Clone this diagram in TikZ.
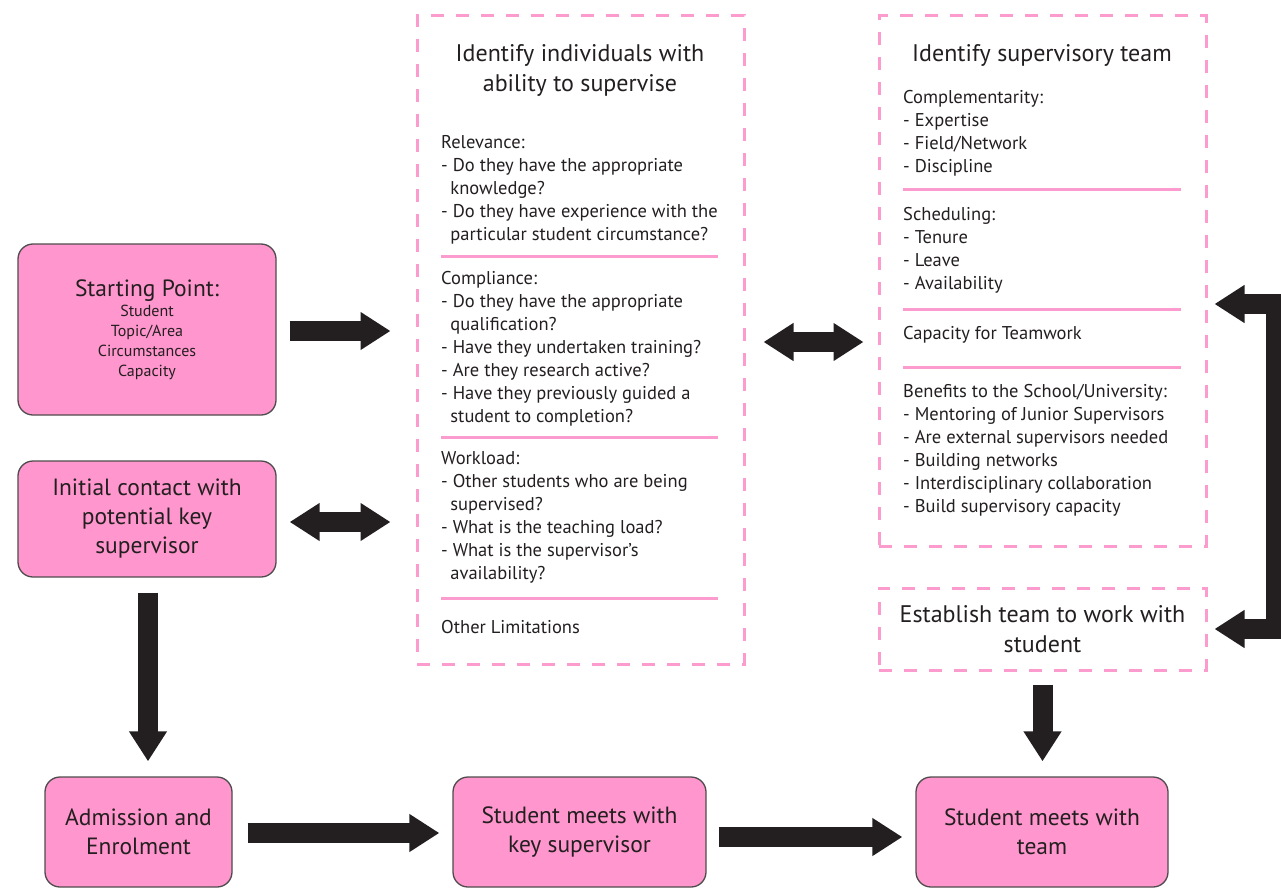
\documentclass[tikz,border=0pt]{standalone}
\usepackage{fontspec}
\setmainfont{PT Sans}
\usetikzlibrary{arrows.meta,calc,positioning}

\definecolor{boxpink}{RGB}{255,150,205}
\definecolor{dashpink}{RGB}{252,155,205}
\definecolor{inkgray}{RGB}{35,31,32}

\newcommand{\ind}{\hspace*{0.5em}}

\tikzset{
  stage/.style={draw=inkgray!80, line width=1.3pt, fill=boxpink, rounded corners=15pt,
    align=center, text=inkgray, inner sep=0pt, font=\fontsize{23.5}{29}\selectfont},
  panel/.style={draw=dashpink, line width=3pt, dash pattern=on 13pt off 12pt, inner sep=0pt,
    align=center, text=inkgray, font=\fontsize{24}{30}\selectfont},
  heading/.style={align=center, inner sep=0pt, text=inkgray, font=\fontsize{24}{30}\selectfont},
  body/.style={anchor=north west, align=left, inner sep=0pt, text=inkgray,
    font=\fontsize{18.5}{23}\selectfont},
  sepline/.style={dashpink, line width=3pt},
  fat/.style={draw=inkgray, line width=20pt, line join=miter, -{Triangle[length=30pt,width=36pt]}},
  fatboth/.style={draw=inkgray, line width=20pt, line join=miter,
    {Triangle[length=30pt,width=36pt]}-{Triangle[length=30pt,width=36pt]}},
}

\begin{document}
\begin{tikzpicture}[x=1pt,y=-1pt]
\useasboundingbox (0,0) rectangle (1281,888);

% pink stages
\node[stage, minimum width=258pt, minimum height=171pt, font=\fontsize{16}{20}\selectfont] (start) at (147,329.5)
  {{\fontsize{23.5}{22}\selectfont Starting Point:}\\Student\\Topic/Area\\Circumstances\\Capacity};
\node[stage, minimum width=258pt, minimum height=116pt] (contact) at (147,519) {Initial contact with\\potential key\\supervisor};
\node[stage, minimum width=187pt, minimum height=110pt] (admit) at (138.5,832) {Admission and\\Enrolment};
\node[stage, minimum width=253pt, minimum height=110pt] (keysup) at (579.5,832) {Student meets with\\key supervisor};
\node[stage, minimum width=252pt, minimum height=110pt] (meetteam) at (1042,832) {Student meets with\\team};

% dashed panels
\node[panel, minimum width=327pt, minimum height=648pt] (ident) at (580.5,340) {};
\node[panel, minimum width=327pt, minimum height=530pt] (team) at (1042.5,281) {};
\node[panel, minimum width=327pt, minimum height=82pt] (establish) at (1042.5,629) {Establish team to work with\\student};

\node[heading] (identtitle) at (580,70) {Identify individuals with\\ability to supervise};
\node[heading] (teamtitle) at (1042,55) {Identify supervisory team};

% left panel
\node[body] (relevance) at (441,135) {Relevance:\\- Do they have the appropriate\\\ind knowledge?\\- Do they have experience with the\\\ind particular student circumstance?};
\node[body] (compliance) at (441,271) {Compliance:\\- Do they have the appropriate\\\ind qualification?\\- Have they undertaken training?\\- Are they research active?\\- Have they previously guided a\\\ind student to completion?};
\node[body] (workload) at (441,451) {Workload:\\- Other students who are being\\\ind supervised?\\- What is the teaching load?\\- What is the supervisor's\\\ind availability?};
\node[body] (limits) at (441,620) {Other Limitations};
\foreach \y in {256,437,598}
  \draw[sepline] (441,\y) -- (718,\y);

% right panel
\node[body] (complement) at (903,90) {Complementarity:\\- Expertise\\- Field/Network\\- Discipline};
\node[body] (schedule) at (903,207) {Scheduling:\\- Tenure\\- Leave\\- Availability};
\node[body] (teamwork) at (903,326) {Capacity for Teamwork};
\node[body] (benefits) at (903,384) {Benefits to the School/University:\\- Mentoring of Junior Supervisors\\- Are external supervisors needed\\- Building networks\\- Interdisciplinary collaboration\\- Build supervisory capacity};
\foreach \y in {189,309,367}
  \draw[sepline] (903,\y) -- (1181,\y);

% arrows
\draw[fat] ($(start.east)+(13,1.5)$) -- ($(start.east -| ident.west)+(-25,1.5)$);
\draw[fatboth] ($(contact.east)+(13,3)$) -- ($(contact.east -| ident.west)+(-25,3)$);
\draw[fatboth] ($(ident.east)+(18,2)$) -- ($(ident.east -| team.west)+(-14,2)$);
\draw[fat] ($(contact.south)+(1,15)$) -- ($(contact.south |- admit.north)+(1,-15)$);
\draw[fat] ($(admit.east)+(15,1)$) -- ($(admit.east -| keysup.west)+(-13,1)$);
\draw[fat] ($(keysup.east)+(12,5)$) -- ($(keysup.east -| meetteam.west)+(-13,5)$);
\draw[fat] ($(establish.south)+(0,13)$) -- ($(establish.south |- meetteam.north)+(0,-15)$);
\draw[fatboth] ($(establish.east)+(7,0)$) -| (1276,304) -- ($(team.east |- 0,304)+(7,0)$);

\end{tikzpicture}
\end{document}
